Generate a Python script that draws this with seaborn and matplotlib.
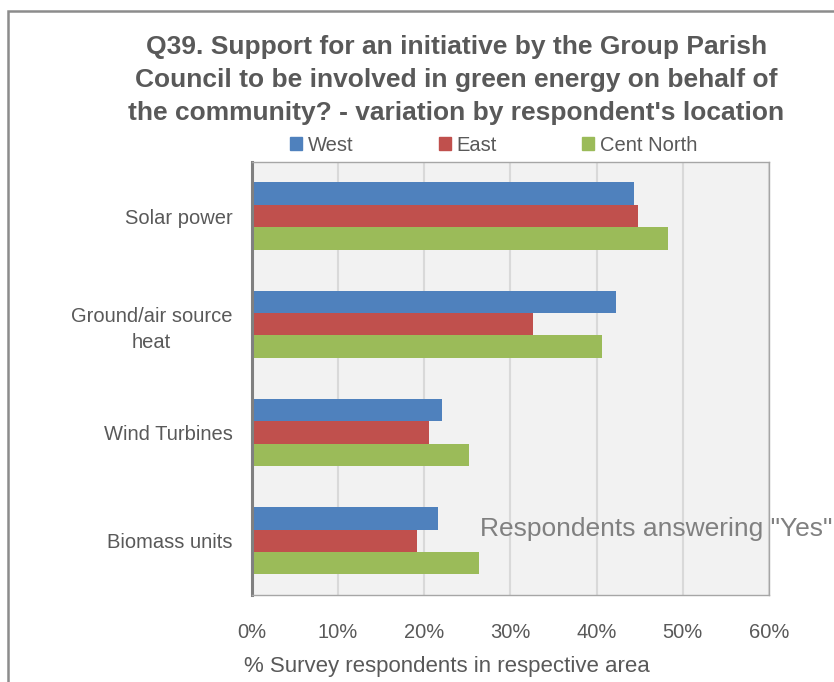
import matplotlib
matplotlib.use("Agg")
import matplotlib.pyplot as plt
from matplotlib.patches import Rectangle
from matplotlib.ticker import PercentFormatter
import pandas as pd
import seaborn as sns

# data (% of respondents answering "Yes")
categories = ["Solar power", "Ground/air source\nheat", "Wind Turbines", "Biomass units"]
areas = ["West", "East", "Cent North"]
west = [44.3, 42.3, 22.1, 21.6]
east = [44.8, 32.6, 20.5, 19.2]
cent_north = [48.3, 40.6, 25.2, 26.3]
colors = ["#4F81BD", "#C0504D", "#9BBB59"]

df = pd.DataFrame({
    "Category": categories * 3,
    "Area": [a for a in areas for _ in categories],
    "Pct": west + east + cent_north,
})

sns.set_theme(style="white")
plt.rcParams["font.family"] = ["Liberation Sans", "DejaVu Sans"]
text_col = "#595959"

fig = plt.figure(figsize=(8.34, 6.82), dpi=100)
fig.patch.set_facecolor("white")
ax = fig.add_axes([0.302, 0.1276, 0.62, 0.635])
ax.set_facecolor("#F2F2F2")

sns.barplot(data=df, y="Category", x="Pct", hue="Area", hue_order=areas,
            palette=colors, orient="h", width=0.62, ax=ax, legend=False,
            saturation=1, linewidth=0)

ax.set_xlim(0, 60)
ax.set_ylim(3.5, -0.5)
ax.set_xticks(range(0, 61, 10))
ax.xaxis.set_major_formatter(PercentFormatter(decimals=0))
ax.grid(axis="x", color="#D9D9D9", lw=1.5)
ax.set_axisbelow(True)
ax.set_xlabel("")
ax.set_ylabel("")
ax.tick_params(axis="both", length=0, labelsize=14.5, colors=text_col)
ax.tick_params(axis="x", pad=20)
ax.tick_params(axis="y", pad=14)
for lab in ax.get_yticklabels():
    lab.set_multialignment("center")
    lab.set_linespacing(1.45)

for side in ["top", "right", "bottom"]:
    ax.spines[side].set_color("#A6A6A6")
    ax.spines[side].set_linewidth(1)
ax.spines["left"].set_color("#808080")
ax.spines["left"].set_linewidth(2.2)

# title and legend
fig.text(0.547, 0.948,
         "Q39. Support for an initiative by the Group Parish\n"
         "Council to be involved in green energy on behalf of\n"
         "the community? - variation by respondent's location",
         ha="center", va="top", fontsize=19, fontweight="bold",
         color=text_col, linespacing=1.45)

handles = [Rectangle((0, 0), 1, 1, color=c) for c in colors]
fig.legend(handles, areas, loc="center", bbox_to_anchor=(0.592, 0.787),
           ncol=3, frameon=False, fontsize=14.5, labelcolor=text_col,
           handlelength=0.6, handleheight=0.6, handletextpad=0.3,
           columnspacing=4.2)

fig.text(0.575, 0.225, 'Respondents answering "Yes"', ha="left", va="center",
         fontsize=19, color="#808080")
fig.text(0.536, 0.022, "% Survey respondents in respective area",
         ha="center", va="center", fontsize=16, color=text_col)

# outer chart border (cropped on right and bottom)
fig.patches.append(Rectangle((8 / 834, -0.2), 1.2, 1.2 - 11 / 682,
                             transform=fig.transFigure, fill=False,
                             edgecolor="#8C8C8C", lw=1.8))

fig.savefig("out.png", dpi=100)
